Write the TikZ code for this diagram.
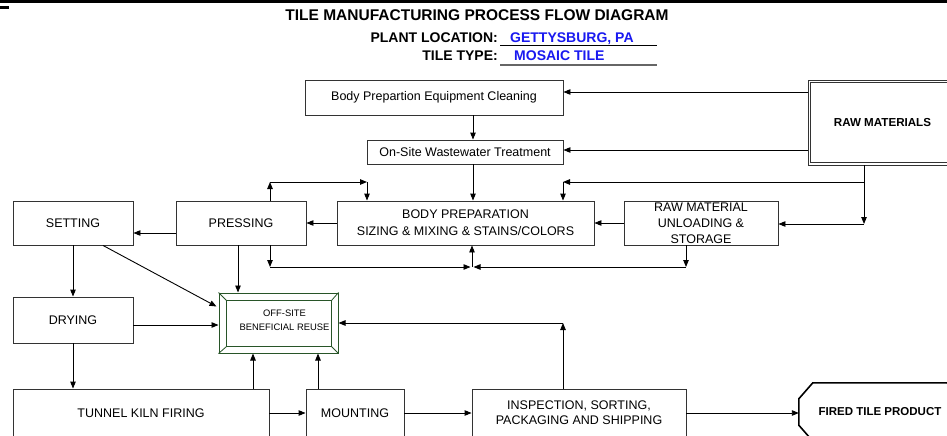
\documentclass[tikz,border=0pt]{standalone}
\usepackage{fontspec}
\setmainfont{Liberation Sans}
\usetikzlibrary{arrows.meta,calc}
\definecolor{offgreen}{RGB}{40,85,40}
\definecolor{linkblue}{RGB}{25,25,240}
\begin{document}
\begin{tikzpicture}[x=1pt,y=-1pt,
  box/.style={draw=black!80, line width=0.9pt, inner sep=0pt, align=center, font=\fontsize{12.5}{15.5}\selectfont},
  arr/.style={draw=black, line width=0.9pt, -{Triangle[length=7pt,width=5.5pt]}},
  ln/.style={draw=black, line width=0.9pt},
  ttl/.style={inner sep=0pt, font=\fontsize{15.5}{18}\selectfont\bfseries},
  sub/.style={inner sep=0pt, font=\fontsize{14}{16}\selectfont\bfseries},
]
\clip (0,0) rectangle (947,436);
\fill[white] (0,0) rectangle (947,436);
% top rule
\fill[black] (0,0) rectangle (947,3.5);
\fill[black] (0,6.5) rectangle (9,9.5);

% titles
\node[ttl, anchor=base] (title) at (477,21) {TILE MANUFACTURING PROCESS FLOW DIAGRAM};
\node[sub, anchor=base east] (plantlbl) at (498,42) {PLANT LOCATION:};
\node[sub, anchor=base west, text=linkblue] (plantval) at (510,42) {GETTYSBURG, PA};
\node[sub, anchor=base east] (typelbl) at (498,60) {TILE TYPE:};
\node[sub, anchor=base west, text=linkblue] (typeval) at (514,60) {MOSAIC TILE};
\coordinate (u1a) at (500,46); \coordinate (u1b) at (657,46);
\coordinate (u2a) at (500,65); \coordinate (u2b) at (657,65);
\draw[black, line width=1pt] (u1a) -- (u1b);
\draw[black!60, line width=2pt] (u2a) -- (u2b);

% boxes
\node[box, minimum width=258, minimum height=35] (clean) at (434,97.5) {Body Prepartion Equipment Cleaning};
\node[box, minimum width=196, minimum height=24] (ww) at (465,152) {On-Site Wastewater Treatment};
\node[box, minimum width=149, minimum height=85, font=\fontsize{11.6}{13}\selectfont\bfseries] (rm) at (882.5,122.5) {RAW MATERIALS};
\draw[black!80, line width=0.9pt] ($(rm.north west)+(3,3)$) rectangle ($(rm.south east)+(-3,-3)$);
\node[box, minimum width=257, minimum height=44, font=\fontsize{12.5}{17}\selectfont] (bp) at (465.5,223) {BODY PREPARATION\\SIZING \& MIXING \& STAINS/COLORS};
\node[box, minimum width=130, minimum height=44] (press) at (241,223) {PRESSING};
\node[box, minimum width=120, minimum height=44] (set) at (73,223) {SETTING};
\node[box, minimum width=154, minimum height=44, font=\fontsize{12.5}{16}\selectfont] (unl) at (701,223) {RAW MATERIAL\\UNLOADING \&\\STORAGE};
\node[box, minimum width=120, minimum height=46] (dry) at (73,320) {DRYING};
\node[draw=offgreen, line width=1pt, inner sep=0pt, minimum width=119, minimum height=60] (off) at (278.5,323) {};
\draw[offgreen, line width=1pt] ($(off.north west)+(8,8)$) rectangle ($(off.south east)+(-7,-7)$);
\draw[offgreen, line width=0.8pt] (off.north west) -- ++(8,8);
\draw[offgreen, line width=0.8pt] (off.north east) -- ++(-7,8);
\draw[offgreen, line width=0.8pt] (off.south west) -- ++(8,-7);
\draw[offgreen, line width=0.8pt] (off.south east) -- ++(-7,-7);
\node[inner sep=0pt, align=center, font=\fontsize{9.4}{13.5}\selectfont] (offtxt) at (284.5,320.5) {OFF-SITE\\BENEFICIAL REUSE};
\node[box, minimum width=256, minimum height=48] (kiln) at (141,413) {TUNNEL KILN FIRING};
\node[box, minimum width=98, minimum height=48] (mount) at (355,413) {MOUNTING};
\node[box, minimum width=214, minimum height=48, font=\fontsize{12.5}{15}\selectfont] (insp) at (579,413) {INSPECTION, SORTING,\\PACKAGING AND SHIPPING};
\node[inner sep=0pt, minimum width=162, minimum height=58, font=\fontsize{11.5}{13}\selectfont\bfseries] (fired) at (880,412) {FIRED TILE PRODUCT};
\draw[black, line width=1.6pt] ($(fired.north west)+(14,0)$) -- ($(fired.north east)+(-14,0)$) -- ($(fired.north east)+(0,16)$) -- ($(fired.south east)+(0,-16)$) -- ($(fired.south east)+(-14,0)$) -- ($(fired.south west)+(14,0)$) -- ($(fired.south west)+(0,-16)$) -- ($(fired.north west)+(0,16)$) -- cycle;

% connectors
\draw[arr] (rm.west |- 0,92) -- (clean.east |- 0,92);
\draw[arr] (rm.west |- 0,150) -- (ww.east |- 0,150);
\draw[arr] (clean.south -| 473,0) -- (ww.north -| 473,0);
\draw[arr] (ww.south -| 473,0) -- (bp.north -| 473,0);
\coordinate (j1) at (864,182);
\coordinate (j2) at (864,224);
\coordinate (j3) at (563,182);
\draw[ln] (rm.south -| j1) -- (j1);
\draw[arr] (j1) -- (j3);
\draw[arr] (j3) -- (bp.north -| j3);
\draw[arr] (j1) -- (j2);
\draw[arr] (j2) -- (unl.east |- j2);
\draw[arr] (unl.west |- 0,223) -- (bp.east |- 0,223);
\draw[arr] (bp.west |- 0,223) -- (press.east |- 0,223);
\draw[arr] (press.west |- 0,233) -- (set.east |- 0,233);
\coordinate (p1) at (270,182);
\coordinate (p2) at (367,182);
\draw[arr] (press.north -| p1) -- (p1);
\draw[arr] (p1) -- (p2);
\draw[arr] (p2) -- (bp.north -| p2);
\coordinate (q1) at (270,267);
\coordinate (qm) at (472,267);
\coordinate (q3) at (686,267);
\draw[arr] (press.south -| q1) -- (q1);
\draw[arr] (q1) -- ($(qm)+(-1.5,0)$);
\draw[arr] (unl.south -| q3) -- (q3);
\draw[arr] (q3) -- ($(qm)+(1.5,0)$);
\draw[arr] (qm) -- (bp.south -| qm);
\draw[arr] (press.south -| 238,0) -- (off.north -| 238,0);
\draw[arr] (set.south -| 103,0) -- ($(off.north west)+(-2,14)$);
\draw[arr] (set.south) -- (dry.north);
\draw[arr] (dry.east |- 0,325) -- (off.west |- 0,325);
\draw[arr] (dry.south) -- (kiln.north -| dry.south);
\draw[arr] (kiln.north -| 253,0) -- (off.south -| 253,0);
\draw[arr] (mount.north -| 318,0) -- (off.south -| 318,0);
\draw[arr] (kiln.east) -- (mount.west);
\draw[arr] (mount.east) -- (insp.west);
\coordinate (r1) at (563,323);
\draw[arr] (insp.north -| r1) -- (r1);
\draw[arr] (r1) -- (off.east |- r1);
\draw[arr] (insp.east) -- (insp.east -| fired.west);
\end{tikzpicture}
\end{document}
